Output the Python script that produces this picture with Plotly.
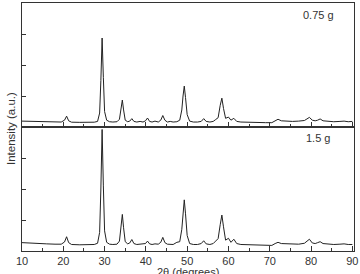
import plotly.graph_objects as go

two_theta = [10, 12, 14, 16, 18, 19.5, 20.3, 20.8, 21.3, 22, 24, 26, 27.5, 28.3, 28.8, 29.1, 29.4, 29.7,
             30.0, 30.5, 31.2, 32, 33, 33.6, 34.0, 34.3, 34.6, 35.0, 35.6, 36.1, 36.6, 37.1, 37.8, 38.6,
             39.3, 39.9, 40.4, 40.9, 41.5, 42.2, 43.0, 43.6, 44.1, 44.6, 45.2, 45.9, 46.6, 47.5, 48.2,
             48.7, 49.0, 49.3, 49.6, 50.0, 50.6, 51.5, 52.5, 53.4, 54.0, 54.6, 55.5, 56.3, 56.9, 57.5,
             58.0, 58.4, 58.8, 59.3, 60.0, 60.6, 61.3, 62.0, 63, 64.5, 66, 67.5, 69, 70.5, 71.3, 72.0,
             72.8, 74, 75.5, 77, 78.4, 79.0, 79.6, 80.3, 81.0, 81.6, 82.2, 82.9, 84, 85.5, 87, 88, 89, 90]

intensity_075g = [0.19, 0.18, 0.17, 0.16, 0.155, 0.16, 0.22, 0.35, 0.2, 0.155, 0.15, 0.15, 0.155, 0.18, 0.45,
                  1.5, 2.87, 1.6, 0.5, 0.22, 0.17, 0.16, 0.17, 0.25, 0.6, 0.87, 0.55, 0.22, 0.17, 0.19, 0.27,
                  0.18, 0.16, 0.18, 0.16, 0.2, 0.29, 0.18, 0.16, 0.19, 0.16, 0.22, 0.37, 0.22, 0.16, 0.18,
                  0.16, 0.17, 0.22, 0.55, 1.0, 1.32, 0.95, 0.4, 0.19, 0.16, 0.16, 0.18, 0.27, 0.18, 0.16,
                  0.18, 0.24, 0.3, 0.7, 0.93, 0.6, 0.28, 0.32, 0.22, 0.28, 0.18, 0.16, 0.15, 0.15, 0.14,
                  0.14, 0.14, 0.2, 0.25, 0.2, 0.19, 0.18, 0.19, 0.21, 0.26, 0.31, 0.22, 0.2, 0.22, 0.26,
                  0.2, 0.18, 0.17, 0.18, 0.19, 0.17, 0.18]

intensity_15g = [0.27, 0.25, 0.24, 0.23, 0.22, 0.22, 0.29, 0.46, 0.27, 0.21, 0.2, 0.2, 0.21, 0.25, 0.6,
                 2.0, 3.92, 2.1, 0.65, 0.28, 0.22, 0.21, 0.22, 0.32, 0.8, 1.18, 0.75, 0.3, 0.23, 0.26, 0.37,
                 0.24, 0.21, 0.22, 0.21, 0.24, 0.32, 0.23, 0.21, 0.23, 0.22, 0.28, 0.44, 0.27, 0.22, 0.22,
                 0.21, 0.28, 0.3, 0.7, 1.25, 1.65, 1.2, 0.5, 0.24, 0.21, 0.21, 0.24, 0.33, 0.23, 0.21,
                 0.24, 0.32, 0.4, 0.85, 1.16, 0.78, 0.35, 0.41, 0.28, 0.38, 0.24, 0.21, 0.2, 0.2, 0.19,
                 0.18, 0.18, 0.24, 0.28, 0.24, 0.23, 0.22, 0.22, 0.25, 0.32, 0.38, 0.26, 0.24, 0.27, 0.3,
                 0.24, 0.22, 0.21, 0.22, 0.23, 0.21, 0.21]

x_ticks = [10, 20, 30, 40, 50, 60, 70, 80, 90]
panel_labels = ["0.75 g", "1.5 g"]

line_color = "#222222"
font_family = "Liberation Sans, Arial, sans-serif"

fig = go.Figure()
fig.add_trace(go.Scatter(x=two_theta, y=intensity_075g, mode="lines", xaxis="x2", yaxis="y2",
                         line=dict(color=line_color, width=1), showlegend=False))
fig.add_trace(go.Scatter(x=two_theta, y=intensity_15g, mode="lines", xaxis="x", yaxis="y",
                         line=dict(color=line_color, width=1), showlegend=False, cliponaxis=True))

xcommon = dict(range=[10, 90.4], showline=True, linecolor="#333", linewidth=1, mirror=True,
               ticks="inside", ticklen=5, tickcolor="#333", tickvals=x_ticks,
               minor=dict(dtick=5, tick0=5, ticks="inside", ticklen=3, tickcolor="#333"),
               showgrid=False, zeroline=False)
ycommon = dict(range=[0, 4], showline=True, linecolor="#333", linewidth=1, mirror=True,
               ticks="inside", ticklen=4, tickcolor="#333", tickvals=[1, 2, 3], showticklabels=False,
               showgrid=False, zeroline=False)

fig.update_layout(
    width=360, height=274,
    margin=dict(l=22, r=6, t=3, b=23),
    paper_bgcolor="white", plot_bgcolor="white",
    font=dict(family=font_family, size=11, color="#333"),
    xaxis=dict(**xcommon, anchor="y", showticklabels=True,
               tickfont=dict(size=11, color="#333")),
    yaxis=dict(**ycommon, domain=[0, 0.5], anchor="x"),
    xaxis2=dict(**xcommon, anchor="y2", matches="x", showticklabels=False),
    yaxis2=dict(**ycommon, domain=[0.5, 1], anchor="x2"),
    annotations=[
        dict(text=panel_labels[0], x=81.8, y=3.61, xref="x2", yref="y2", showarrow=False,
             font=dict(size=11, color="#333")),
        dict(text=panel_labels[1], x=81.6, y=3.65, xref="x", yref="y", showarrow=False,
             font=dict(size=11, color="#333")),
        dict(text="Intensity (a.u.)", x=0, y=0.5, xref="paper", yref="paper", xanchor="right",
             xshift=-3, yshift=-2, textangle=-90, showarrow=False, font=dict(size=11.5, color="#333")),
        dict(text="2θ (degrees)", x=0.5, y=0, xref="paper", yref="paper", yanchor="top",
             yshift=-13, showarrow=False, font=dict(size=11, color="#333")),
    ],
)

fig.write_html("out.html")
